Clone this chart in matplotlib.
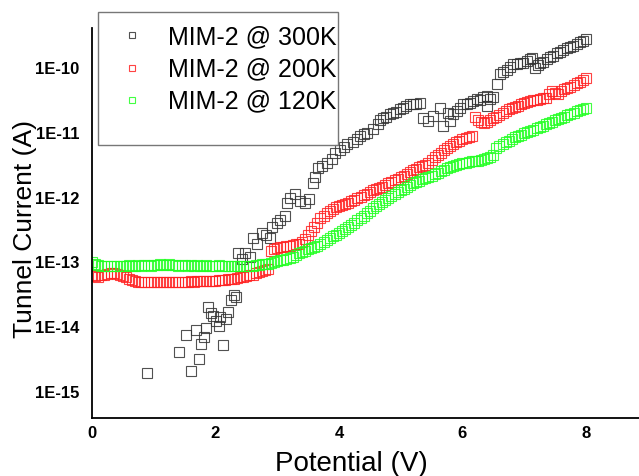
import numpy as np
import matplotlib
matplotlib.use('Agg')
from matplotlib import pyplot as plt
import matplotlib.ticker as ticker
from matplotlib.patches import Rectangle

plt.rcParams['font.family'] = ['Liberation Sans', 'DejaVu Sans']

# sweep voltage (V), step 0.05 V
volts = np.round(np.arange(0, 8.001, 0.05), 2)

# log10 of current
log_200K = [
    -13.20, -13.21, -13.22, -13.20, -13.19, -13.18, -13.17, -13.17, -13.18, -13.19,
    -13.21, -13.23, -13.25, -13.27, -13.29, -13.30, -13.31, -13.31, -13.30, -13.31,
    -13.30, -13.31, -13.30, -13.31, -13.31, -13.30, -13.31, -13.30, -13.30, -13.31,
    -13.30, -13.30, -13.29, -13.30, -13.29, -13.29, -13.29, -13.28, -13.28, -13.28,
    -13.28, -13.27, -13.27, -13.27, -13.26, -13.26, -13.25, -13.24, -13.23, -13.22,
    -13.21, -13.20, -13.19, -13.17, -13.15, -13.13, -13.12, -13.10,
    -12.82, -12.80, -12.78, -12.77, -12.76, -12.75, -12.74, -12.73, -12.72, -12.71,
    -12.69, -12.64, -12.58, -12.52, -12.46, -12.39, -12.32, -12.28, -12.24, -12.21,
    -12.18, -12.15, -12.13, -12.11, -12.10, -12.08, -12.06, -12.03, -12.01, -11.99,
    -11.96, -11.94, -11.92, -11.89, -11.87, -11.85, -11.83, -11.80, -11.78, -11.76,
    -11.73, -11.71, -11.68, -11.66, -11.63, -11.61, -11.58, -11.56, -11.53, -11.51,
    -11.49, -11.46, -11.42, -11.38, -11.34, -11.31, -11.27, -11.23, -11.20, -11.17,
    -11.15, -11.12, -11.10, -11.08, -11.06, -11.05, -10.76, -10.80, -10.84, -10.85,
    -10.83, -10.81, -10.78, -10.75, -10.72, -10.69, -10.66, -10.64, -10.62, -10.60,
    -10.58, -10.56, -10.54, -10.52, -10.51, -10.50, -10.49, -10.48, -10.47, -10.46,
    -10.40, -10.36, -10.38, -10.40, -10.36, -10.33, -10.31, -10.29, -10.26, -10.23,
    -10.21, -10.18, -10.15,
]

log_120K = [
    -13.00, -13.02, -13.04, -13.05, -13.05, -13.06, -13.05, -13.05, -13.06, -13.05,
    -13.05, -13.05, -13.04, -13.05, -13.05, -13.04, -13.05, -13.04, -13.04, -13.05,
    -13.04, -13.04, -13.03, -13.04, -13.04, -13.03, -13.04, -13.04, -13.05, -13.04,
    -13.04, -13.05, -13.04, -13.05, -13.04, -13.05, -13.05, -13.04, -13.05, -13.05,
    -13.05, -13.04, -13.05, -13.05, -13.05, -13.06, -13.05, -13.06, -13.05, -13.05,
    -13.05, -13.05, -13.05, -13.04, -13.04, -13.03, -13.03, -13.02, -13.01, -13.00,
    -12.98, -12.97, -12.96, -12.95, -12.93, -12.91, -12.88, -12.86, -12.84, -12.82,
    -12.80, -12.78, -12.76, -12.74, -12.71, -12.68, -12.65, -12.62, -12.59, -12.57,
    -12.54, -12.51, -12.48, -12.45, -12.42, -12.39, -12.35, -12.32, -12.28, -12.24,
    -12.20, -12.16, -12.13, -12.10, -12.07, -12.04, -12.01, -11.98, -11.95, -11.92,
    -11.89, -11.87, -11.84, -11.81, -11.78, -11.76, -11.74, -11.72, -11.70, -11.68,
    -11.66, -11.64, -11.62, -11.59, -11.57, -11.55, -11.53, -11.51, -11.49, -11.48,
    -11.47, -11.46, -11.45, -11.44, -11.44, -11.43, -11.42, -11.41, -11.39, -11.37,
    -11.35, -11.24, -11.21, -11.18, -11.15, -11.12, -11.10, -11.07, -11.05, -11.03,
    -11.01, -10.99, -10.97, -10.95, -10.93, -10.91, -10.89, -10.87, -10.85, -10.83,
    -10.81, -10.79, -10.77, -10.75, -10.73, -10.71, -10.69, -10.67, -10.65, -10.64,
    -10.62,
]

# 300K points are scattered, so voltage read point by point
v_300K = [
    0.89, 1.41, 1.52, 1.60, 1.68, 1.73, 1.77, 1.81, 1.85, 1.88,
    1.93, 1.96, 2.01, 2.06, 2.07, 2.12, 2.17, 2.20, 2.25, 2.30,
    2.33, 2.36, 2.43, 2.48, 2.56, 2.61, 2.67, 2.75, 2.82, 2.88,
    2.91, 3.00, 3.04, 3.13, 3.16, 3.21, 3.29, 3.37, 3.45, 3.51,
    3.58, 3.61, 3.66, 3.72, 3.81, 3.89, 3.94, 4.02, 4.08, 4.13,
    4.23, 4.29, 4.34, 4.40, 4.45, 4.55, 4.63, 4.66, 4.71, 4.76,
    4.83, 4.87, 4.92, 4.99, 5.04, 5.09, 5.15, 5.20, 5.25, 5.31,
    5.36, 5.44, 5.52, 5.64, 5.68, 5.77, 5.80, 5.85, 5.91, 5.96,
    6.01, 6.07, 6.12, 6.17, 6.23, 6.28, 6.33, 6.40, 6.40, 6.45,
    6.49, 6.56, 6.61, 6.66, 6.72, 6.77, 6.82, 6.88, 6.93, 6.98,
    7.04, 7.09, 7.13, 7.17, 7.22, 7.26, 7.30, 7.37, 7.42, 7.47,
    7.53, 7.58, 7.63, 7.69, 7.74, 7.79, 7.85, 7.90, 7.95, 8.00,
]
log_300K = [
    -14.71, -14.38, -14.12, -14.68, -14.05, -14.49, -14.26, -14.15, -14.02, -13.69,
    -13.78, -13.82, -13.91, -13.98, -13.85, -14.28, -13.88, -13.77, -13.58, -13.51,
    -13.54, -12.85, -12.95, -12.85, -12.92, -12.62, -12.71, -12.55, -12.58, -12.63,
    -12.46, -12.40, -12.35, -12.28, -12.09, -12.00, -11.94, -12.05, -12.09, -12.02,
    -11.78, -11.69, -11.55, -11.51, -11.46, -11.40, -11.31, -11.26, -11.22, -11.17,
    -11.14, -11.09, -11.05, -11.02, -11.00, -10.94, -10.86, -10.80, -10.78, -10.75,
    -10.71, -10.69, -10.68, -10.63, -10.62, -10.58, -10.55, -10.55, -10.56, -10.54,
    -10.78, -10.82, -10.74, -10.62, -10.89, -10.69, -10.82, -10.71, -10.66, -10.62,
    -10.55, -10.55, -10.54, -10.51, -10.48, -10.49, -10.45, -10.43, -10.58, -10.48,
    -10.45, -10.25, -10.09, -10.06, -10.03, -9.98, -9.94, -9.94, -9.92, -9.92,
    -9.89, -9.86, -9.85, -10.00, -9.95, -9.92, -9.91, -9.86, -9.83, -9.82,
    -9.77, -9.75, -9.72, -9.69, -9.68, -9.66, -9.63, -9.60, -9.58, -9.55,
]

labels = ['MIM-2 @ 300K', 'MIM-2 @ 200K', 'MIM-2 @ 120K']
colors = ['#333333', '#ff2222', '#22ff22']

fig = plt.figure(figsize=(6.39, 4.76), dpi=100)
ax = fig.add_axes([0.144, 0.122, 0.856, 0.819])

mk = dict(marker='s', linestyle='none', markersize=6.5, markerfacecolor='none',
          markeredgewidth=0.8, alpha=0.85)
ax.plot(v_300K, 10.0 ** np.array(log_300K), color=colors[0], label=labels[0], **mk)
ax.plot(volts, 10.0 ** np.array(log_200K), color=colors[1], label=labels[1], **mk)
ax.plot(volts, 10.0 ** np.array(log_120K), color=colors[2], label=labels[2], **mk)

ax.set_yscale('log')
ax.set_xlim(0, 8.86)
ax.set_ylim(10 ** -15.4, 10 ** -9.385)

# оси
ax.spines['top'].set_visible(False)
ax.spines['right'].set_visible(False)
ax.spines['left'].set_linewidth(1.3)
ax.spines['bottom'].set_linewidth(1.3)

ax.xaxis.set_major_locator(ticker.FixedLocator([0, 2, 4, 6, 8]))
ax.yaxis.set_major_locator(ticker.FixedLocator([1e-15, 1e-14, 1e-13, 1e-12, 1e-11, 1e-10]))
ax.yaxis.set_minor_locator(ticker.NullLocator())
ax.yaxis.set_major_formatter(ticker.FuncFormatter(lambda v, p: '1E%d' % round(np.log10(v))))
ax.tick_params(axis='both', length=0, labelsize=12)
ax.tick_params(axis='y', pad=9)
ax.tick_params(axis='x', pad=6)
for t in ax.get_xticklabels() + ax.get_yticklabels():
    t.set_fontweight('bold')

ax.set_xlabel('Potential (V)', fontsize=20)
ax.set_ylabel('Tunnel Current (A)', fontsize=19)
ax.xaxis.set_label_coords(0.4735, -0.085)
ax.yaxis.set_label_coords(-0.10, 0.485)

# легенда
fig.patches.append(Rectangle((98 / 639, 1 - 145 / 476), 240 / 639, 133 / 476,
                             transform=fig.transFigure, fill=False,
                             edgecolor='#777777', linewidth=1.0, zorder=5))
leg = ax.legend(loc='upper left', bbox_to_anchor=(119 / 639, 1 - 25 / 476),
                bbox_transform=fig.transFigure, frameon=False, fontsize=18,
                markerscale=0.75, handletextpad=0.94, labelspacing=0.33,
                handlelength=1.0, borderpad=0, borderaxespad=0)

fig.savefig('out.png', dpi=100)
